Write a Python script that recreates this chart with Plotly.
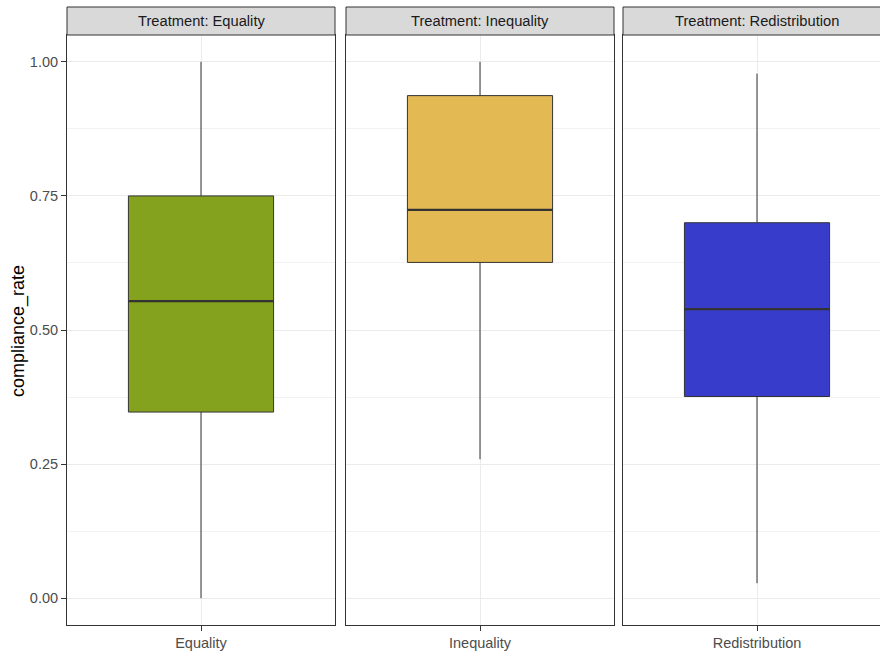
import plotly.graph_objects as go

treatments = ["Equality", "Inequality", "Redistribution"]
strip_labels = ["Treatment: Equality", "Treatment: Inequality", "Treatment: Redistribution"]
lower_whisker = [0.0, 0.259, 0.028]
q1_vals = [0.347, 0.626, 0.376]
median_vals = [0.554, 0.724, 0.539]
q3_vals = [0.750, 0.937, 0.700]
upper_whisker = [1.0, 1.0, 0.978]
fill_colors = ["#85A21E", "#E3B954", "#383CCB"]
y_ticks = [0.0, 0.25, 0.5, 0.75, 1.0]

W, H = 880, 653
ML, MR, MT, MB = 67, 0, 35, 28
pw = W - ML - MR
ph = H - MT - MB
panel_px = [(67, 335), (346, 614), (623, 880)]
px_per_unit = 268 / 1.2
box_w = 0.65

TICK_SIZE = 14.5
STRIP_SIZE = 14.7
TITLE_SIZE = 18

fig = go.Figure()
shapes = []
annotations = []
font_family = "Liberation Sans, Arial, sans-serif"

for i, t in enumerate(treatments):
    xa = "x" if i == 0 else f"x{i+1}"
    ya = "y" if i == 0 else f"y{i+1}"
    fig.add_trace(go.Box(
        x=[t], q1=[q1_vals[i]], median=[median_vals[i]], q3=[q3_vals[i]],
        lowerfence=[lower_whisker[i]], upperfence=[upper_whisker[i]],
        fillcolor=fill_colors[i], line=dict(color="#333333", width=1),
        whiskerwidth=0, width=box_w, boxpoints=False, showlegend=False,
        xaxis=xa, yaxis=ya, hoverinfo="skip",
    ))
    # thicker median line (ggplot style)
    shapes.append(dict(type="line", xref=xa, yref=ya, x0=-box_w / 2, x1=box_w / 2,
                       y0=median_vals[i], y1=median_vals[i],
                       line=dict(color="#333333", width=2.2), layer="above"))
    x0p, x1p = panel_px[i]
    d0 = (x0p - ML) / pw
    d1 = (x1p - ML) / pw
    rng_hi = -0.6 + (x1p - x0p) / px_per_unit
    xkey = "xaxis" if i == 0 else f"xaxis{i+1}"
    ykey = "yaxis" if i == 0 else f"yaxis{i+1}"
    fig.update_layout(**{
        xkey: dict(domain=[d0, d1], anchor=ya, type="category", range=[-0.6, rng_hi],
                   showgrid=True, gridcolor="#EBEBEB", gridwidth=1.1,
                   showline=True, mirror=True, linecolor="#333333", linewidth=1,
                   ticks="outside", ticklen=5, tickwidth=1, tickcolor="#333333",
                   tickfont=dict(family=font_family, size=TICK_SIZE, color="#4D4D4D"),
                   zeroline=False, fixedrange=True),
        ykey: dict(anchor=xa, range=[-0.05, 1.05], tickvals=y_ticks,
                   ticktext=[f"{v:.2f}" for v in y_ticks],
                   showticklabels=(i == 0), ticks="outside" if i == 0 else "",
                   ticklen=5, tickwidth=1, tickcolor="#333333",
                   tickfont=dict(family=font_family, size=TICK_SIZE, color="#4D4D4D"),
                   showgrid=True, gridcolor="#EBEBEB", gridwidth=1.1,
                   minor=dict(tickvals=[0.125, 0.375, 0.625, 0.875], showgrid=True,
                              gridcolor="#F2F2F2", gridwidth=0.8, ticks=""),
                   showline=True, mirror=(i < 2), linecolor="#333333", linewidth=1,
                   zeroline=False, fixedrange=True,
                   **({} if i == 0 else {"matches": "y"})),
    })
    # strip header
    sx1 = d1 if i < 2 else 1.05
    shapes.append(dict(type="rect", xref="paper", yref="paper", x0=d0, x1=sx1,
                       y0=1.0, y1=1 + 28 / ph, fillcolor="#D9D9D9",
                       line=dict(color="#333333", width=1), layer="above"))
    cx = (x0p + 134 - ML) / pw
    annotations.append(dict(text=strip_labels[i], xref="paper", yref="paper",
                            x=cx, y=1 + 14 / ph, showarrow=False,
                            xanchor="center", yanchor="middle",
                            font=dict(family=font_family, size=STRIP_SIZE, color="#1A1A1A")))

annotations.append(dict(text="compliance_rate", xref="paper", yref="paper",
                        x=(18 - ML) / pw, y=1 - (331 - MT) / ph,
                        showarrow=False, textangle=-90, xanchor="center", yanchor="middle",
                        font=dict(family=font_family, size=TITLE_SIZE, color="#000000")))

fig.update_layout(
    width=W, height=H,
    margin=dict(l=ML, r=MR, t=MT, b=MB),
    paper_bgcolor="white", plot_bgcolor="white",
    shapes=shapes, annotations=annotations,
    showlegend=False,
)

fig.write_html("out.html", config={"displayModeBar": False})
